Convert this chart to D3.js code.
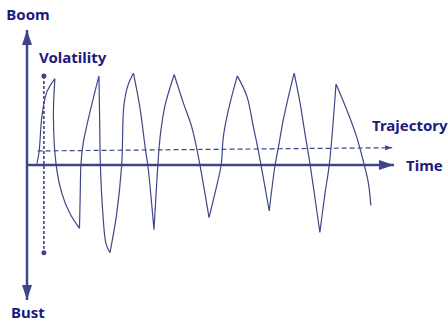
<!DOCTYPE html>
<html lang="en">
  <head>
    <meta charset="UTF-8" />
    <title>boom bust</title>
    <script src="https://cdn.jsdelivr.net/npm/d3@7/dist/d3.min.js"></script>
    <style>
      body {
        margin: 0;
        background: #fff;
      }
      text {
        font-family: "Noto Sans", sans-serif;
        font-weight: bold;
        font-size: 15px;
        fill: #1b1b7e;
      }
    </style>
  </head>
  <body>
    <div id="wrapper"></div>
    <script>
      // wave: time (0-100) and value (-100..100)
      const waveTime = [
        2.7, 3.3, 4.1, 5.4, 7.6, 7.2, 7.9, 9.5, 11.7, 14.3, 14.5, 14.7, 15.3,
        19.6, 19.8, 20.0, 20.7, 21.5, 22.6, 24.4, 25.8, 26.4, 27.5, 29.0, 30.8,
        32.2, 33.0, 34.6, 36.0, 36.5, 37.6, 40.1, 42.6, 44.9, 46.7, 49.6, 51.2,
        52.9, 53.5, 54.9, 57.3, 59.9, 61.7, 63.0, 66.0, 67.6, 68.5, 69.8, 71.7,
        72.8, 74.4, 75.7, 77.1, 79.8, 81.2, 82.4, 84.2, 87.1, 89.8, 91.8, 93.0,
        93.7,
      ];
      const waveValue = [
        1, 10, 37, 54, 64, 37, 1, -21, -36, -47, -22, 0, 16, 66, 33, 0, -37,
        -58, -65, -37, 0, 44, 59, 68, 42, 13, -2, -48, 13, 26, 44, 67, 46, 28,
        6, -39, -21, 0, 21, 41, 66, 51, 28, 11, -34, 0, 13, 33, 56, 68, 46, 24,
        1, -50, -21, 1, 60, 41, 21, 1, -13, -30,
      ];
      const trajectoryTime = [2.9, 99.5];
      const trajectoryValue = [10.4, 12.8];
      const volatilityTime = 4.6;
      const volatilityRange = [66, -65];
      const labels = ["Boom", "Bust", "Volatility", "Trajectory", "Time"];

      const dimensions = { width: 448, height: 322 };
      const ink = "#3d4787";

      const svg = d3
        .select("#wrapper")
        .append("svg")
        .attr("width", dimensions.width)
        .attr("height", dimensions.height);

      const xScale = d3.scaleLinear().domain([0, 100]).range([27, 394]);
      const yScale = d3.scaleLinear().domain([-100, 100]).range([300, 30]);

      const defs = svg.append("defs");
      function arrow(id, w, h) {
        defs
          .append("marker")
          .attr("id", id)
          .attr("viewBox", `0 0 ${w} ${h}`)
          .attr("refX", w)
          .attr("refY", h / 2)
          .attr("markerWidth", w)
          .attr("markerHeight", h)
          .attr("markerUnits", "userSpaceOnUse")
          .attr("orient", "auto-start-reverse")
          .append("path")
          .attr("d", `M0,0L${w},${h / 2}L0,${h}Z`)
          .attr("fill", ink);
      }
      arrow("axisArrow", 15, 10);
      arrow("smallArrow", 7, 5);

      // axes
      svg
        .append("line")
        .attr("x1", xScale(0))
        .attr("x2", xScale(0))
        .attr("y1", yScale(100))
        .attr("y2", yScale(-100))
        .attr("stroke", ink)
        .attr("stroke-width", 2.5)
        .attr("marker-start", "url(#axisArrow)")
        .attr("marker-end", "url(#axisArrow)");
      svg
        .append("line")
        .attr("x1", xScale(0))
        .attr("x2", xScale(100))
        .attr("y1", yScale(0))
        .attr("y2", yScale(0))
        .attr("stroke", ink)
        .attr("stroke-width", 2.5)
        .attr("marker-end", "url(#axisArrow)");

      // trajectory
      svg
        .append("line")
        .attr("x1", xScale(trajectoryTime[0]))
        .attr("x2", xScale(trajectoryTime[1]))
        .attr("y1", yScale(trajectoryValue[0]))
        .attr("y2", yScale(trajectoryValue[1]))
        .attr("stroke", ink)
        .attr("stroke-width", 1.2)
        .attr("stroke-dasharray", "5,3")
        .attr("marker-end", "url(#smallArrow)");

      // volatility span
      svg
        .append("line")
        .attr("x1", xScale(volatilityTime))
        .attr("x2", xScale(volatilityTime))
        .attr("y1", yScale(volatilityRange[0]))
        .attr("y2", yScale(volatilityRange[1]))
        .attr("stroke", ink)
        .attr("stroke-width", 1.6)
        .attr("stroke-dasharray", "3,2");
      svg
        .selectAll(".vdot")
        .data(volatilityRange)
        .join("circle")
        .attr("cx", xScale(volatilityTime))
        .attr("cy", (d) => yScale(d))
        .attr("r", 2.5)
        .attr("fill", ink);

      // wave, split into strokes at peaks and troughs so the tips stay sharp
      const points = waveTime.map((t, i) => ({ t, v: waveValue[i] }));
      const strokes = [];
      let current = [points[0]];
      for (let i = 1; i < points.length; i++) {
        current.push(points[i]);
        const prev = points[i - 1].v,
          next = points[i + 1] ? points[i + 1].v : null;
        const cusp =
          next !== null &&
          ((points[i].v > prev && points[i].v > next) ||
            (points[i].v < prev && points[i].v < next));
        if (cusp) {
          strokes.push(current);
          current = [points[i]];
        }
      }
      strokes.push(current);

      const lineGenerator = d3
        .line()
        .x((d) => xScale(d.t))
        .y((d) => yScale(d.v))
        .curve(d3.curveCatmullRom.alpha(0.5));

      svg
        .append("path")
        .attr("d", strokes.map((s) => lineGenerator(s)).join(""))
        .attr("fill", "none")
        .attr("stroke", ink)
        .attr("stroke-width", 1.2)
        .attr("stroke-linejoin", "miter");

      // labels
      svg
        .append("text")
        .attr("x", xScale(0) + 1)
        .attr("y", 20)
        .attr("text-anchor", "middle")
        .text(labels[0]);
      svg
        .append("text")
        .attr("x", xScale(0) + 1)
        .attr("y", 318)
        .attr("text-anchor", "middle")
        .text(labels[1]);
      svg
        .append("text")
        .attr("x", 39)
        .attr("y", 63)
        .text(labels[2]);
      svg
        .append("text")
        .attr("x", 372)
        .attr("y", 131)
        .text(labels[3]);
      svg
        .append("text")
        .attr("x", 406)
        .attr("y", 171)
        .text(labels[4]);
    </script>
  </body>
</html>
